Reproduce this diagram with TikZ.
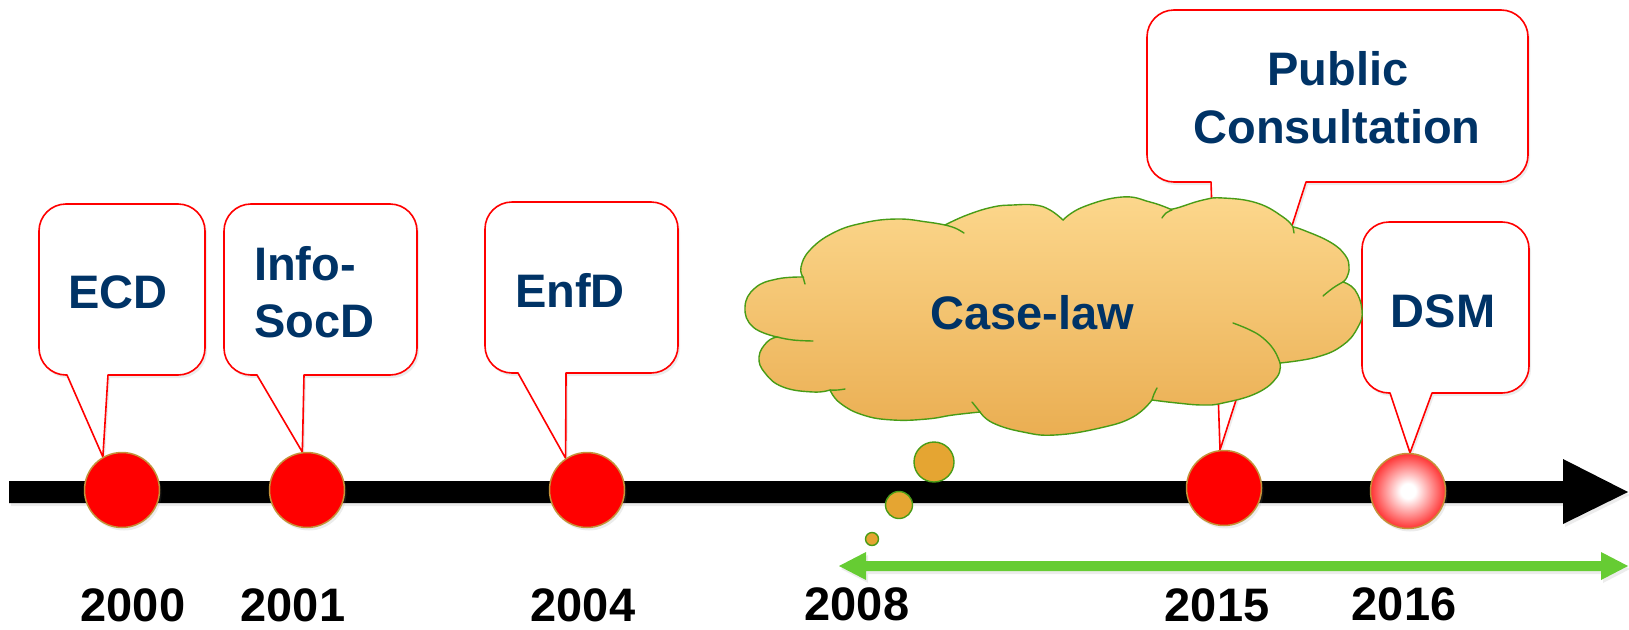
\documentclass[tikz,border=0pt]{standalone}
\usepackage{fontspec}
\setmainfont{Liberation Sans}
\usetikzlibrary{shadows}

\definecolor{navy}{RGB}{0,51,102}
\definecolor{dotrim}{RGB}{196,146,58}
\definecolor{cloudtop}{RGB}{252,215,140}
\definecolor{cloudbot}{RGB}{234,174,82}
\definecolor{cloudline}{RGB}{72,156,22}
\definecolor{bubblefill}{RGB}{229,165,50}
\definecolor{spangreen}{RGB}{102,204,51}

\pgfdeclarelayer{back}
\pgfdeclarelayer{mid}
\pgfsetlayers{back,mid,main}

% white core fading to red for the current event
\pgfdeclareradialshading{glow}{\pgfpoint{0bp}{0bp}}{%
  color(0bp)=(white); color(5bp)=(white); color(30bp)=(red); color(50bp)=(red)}

% rounded speech box: #1 left x, #2 top y, #3 right x, #4 bottom y,
% #5/#6 x of the tail's base, #7 point the tail ends at (y measured downwards)
\newcommand\drawcallout[7]{%
  \path[calloutline, soft shadow] (#7) -- (#5,-#4) -- ({#1+27},-#4)
    arc[start angle=270,end angle=180,radius=27pt] -- (#1,{-#2-27})
    arc[start angle=180,end angle=90,radius=27pt] -- ({#3-27},-#2)
    arc[start angle=90,end angle=0,radius=27pt] -- (#3,{-#4+27})
    arc[start angle=0,end angle=-90,radius=27pt] -- (#6,-#4) -- cycle;}

\begin{document}
\begin{tikzpicture}[x=1pt,y=1pt,
  tagtext/.style={font=\fontsize{47}{56}\selectfont\bfseries, text=navy, inner sep=0pt},
  yeartext/.style={font=\fontsize{47}{56}\selectfont\bfseries, text=black, inner sep=0pt, anchor=base},
  event/.style={circle, minimum size=75pt, inner sep=0pt, fill=red, draw=dotrim, line width=1.5pt},
  bubble/.style={circle, inner sep=0pt, fill=bubblefill, draw=cloudline, line width=1.4pt},
  calloutline/.style={draw=red, line width=1.6pt, fill=white, line join=round},
  soft shadow/.style={drop shadow={opacity=0.15, shadow xshift=2pt, shadow yshift=-3pt}},
  cloudedge/.style={draw=cloudline, line width=1.4pt, line cap=round},
  lobe/.style={smooth, tension=0.75}]

\useasboundingbox (0,0) rectangle (1629,-629);

% ---------- events on the time line ----------
\node[event, soft shadow] (c2000) at (122,-490) {};
\node[event, soft shadow] (c2001) at (307,-490) {};
\node[event, soft shadow] (c2004) at (587,-490) {};
\node[event, soft shadow] (c2015) at (1224,-488) {};
\node[event, soft shadow, shading=glow] (c2016) at (1408,-491) {};

\begin{pgfonlayer}{back}
  % time line with its arrow head
  \fill[black, soft shadow] (9,-481) -- (1563,-481) -- (1563,-459) -- (1628,-492)
    -- (1563,-524) -- (1563,-503) -- (9,-503) -- cycle;
  % speech boxes
  \drawcallout{39}{204}{205}{375}{67}{108}{c2000.120}
  \drawcallout{224}{204}{417}{375}{257}{304}{c2001.97}
  \drawcallout{485}{202}{678}{373}{518}{566}{c2004.124}
  \drawcallout{1147}{10}{1528}{182}{1211}{1306}{c2015.96}
  \drawcallout{1362}{222}{1529}{393}{1390}{1432}{c2016.87}
\end{pgfonlayer}

% ---------- thought cloud ----------
\begin{pgfonlayer}{mid}
  \shadedraw[cloudedge, top color=cloudtop, bottom color=cloudbot]
    plot[lobe] coordinates {(777,-337) (753,-327) (745,-307) (755,-288) (777,-279) (803,-277)}
    -- plot[lobe] coordinates {(803,-277) (801,-267) (810,-250) (833,-233) (863,-223) (897,-219) (927,-222) (945,-225)}
    -- plot[lobe] coordinates {(945,-225) (967,-215) (993,-207) (1013,-205) (1035,-205) (1050,-210) (1063,-220)}
    -- plot[lobe] coordinates {(1063,-220) (1083,-207) (1122,-197) (1150,-202) (1170,-209)}
    -- plot[lobe] coordinates {(1170,-209) (1177,-208) (1203,-200) (1223,-198) (1257,-203) (1283,-217) (1293,-227)}
    -- plot[lobe] coordinates {(1293,-227) (1303,-230) (1330,-242) (1345,-255) (1349,-267) (1347,-277) (1343,-282)}
    -- plot[lobe] coordinates {(1343,-282) (1355,-290) (1362,-310) (1358,-327) (1343,-345) (1317,-357) (1280,-363)}
    -- plot[lobe] coordinates {(1280,-363) (1277,-377) (1257,-393) (1223,-403) (1203,-405) (1177,-403) (1152,-400)}
    -- plot[lobe] coordinates {(1152,-400) (1133,-417) (1100,-428) (1055,-435) (1023,-432) (993,-423) (980,-412)}
    -- plot[lobe] coordinates {(980,-412) (953,-415) (927,-419) (893,-420) (863,-415) (840,-403) (830,-390)}
    -- plot[lobe] coordinates {(830,-390) (813,-392) (783,-387) (765,-373) (759,-357) (767,-342) (777,-337)}
    -- cycle;
  % inner ends of the puffs
  \draw[cloudedge] plot[lobe] coordinates {(777,-337) (793,-340) (813,-341)};
  \draw[cloudedge] (803,-277) -- (805,-284);
  \draw[cloudedge] plot[lobe] coordinates {(945,-225) (955,-228) (964,-233)};
  \draw[cloudedge] plot[lobe] coordinates {(1172,-210) (1166,-213) (1162,-218)};
  \draw[cloudedge] (1293,-227) -- (1294,-233);
  \draw[cloudedge] plot[lobe] coordinates {(1343,-282) (1333,-288) (1323,-296)};
  \draw[cloudedge] plot[lobe] coordinates {(1233,-323) (1250,-330) (1263,-338) (1274,-350) (1280,-363)};
  \draw[cloudedge] plot[lobe] coordinates {(1152,-400) (1154,-394) (1157,-388)};
  \draw[cloudedge] plot[lobe] coordinates {(980,-412) (976,-407) (972,-402)};
  \draw[cloudedge] plot[lobe] coordinates {(830,-390) (838,-390) (845,-389)};
\end{pgfonlayer}

% thought bubbles
\node[bubble, minimum size=40pt] (bub1) at (934,-462) {};
\node[bubble, minimum size=27pt] (bub2) at (899,-505) {};
\node[bubble, minimum size=13pt] (bub3) at (872,-539) {};

% ---------- span from 2008 onwards ----------
\fill[spangreen, soft shadow] (839,-566) -- (866,-552) -- (866,-561) -- (1601,-561)
  -- (1601,-552) -- (1628,-566) -- (1601,-580) -- (1601,-571) -- (866,-571)
  -- (866,-580) -- cycle;

% ---------- texts ----------
\node[tagtext, anchor=base] (tecd) at (118,-308) {ECD};
\node[tagtext, anchor=base west] (tinfo1) at (254,-280) {Info-};
\node[tagtext, anchor=base west] (tinfo2) at (254,-337) {SocD};
\node[tagtext, anchor=base] (tenfd) at (570,-307) {EnfD};
\node[tagtext, anchor=base] (tcase) at (1032,-329) {Case-law};
\node[tagtext, anchor=base] (tpub1) at (1338,-85) {Public};
\node[tagtext, anchor=base] (tpub2) at (1337,-143) {Consultation};
\node[tagtext, anchor=base] (tdsm) at (1443,-327) {DSM};

\node[yeartext] (y2000) at (133,-621) {2000};
\node[yeartext] (y2001) at (293,-621) {2001};
\node[yeartext] (y2004) at (583,-621) {2004};
\node[yeartext] (y2008) at (857,-620) {2008};
\node[yeartext] (y2015) at (1217,-621) {2015};
\node[yeartext] (y2016) at (1404,-620) {2016};
\end{tikzpicture}
\end{document}
